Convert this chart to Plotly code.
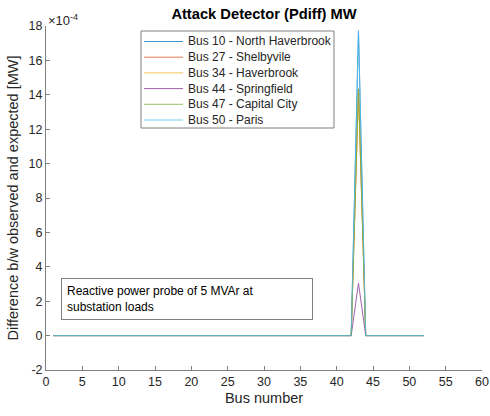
import plotly.graph_objects as go

bus_number = list(range(1, 53))

# values in MW (axis shows x1e-4 scale)
bus10 = [0, 0, 0, 0, 0, 0, 0, 0, 0, 0, 0, 0, 0, 0, 0, 0, 0, 0, 0, 0,
         0, 0, 0, 0, 0, 0, 0, 0, 0, 0, 0, 0, 0, 0, 0, 0, 0, 0, 0, 0,
         0, 0, 17.7e-4, 0, 0, 0, 0, 0, 0, 0, 0, 0]
bus27 = [0, 0, 0, 0, 0, 0, 0, 0, 0, 0, 0, 0, 0, 0, 0, 0, 0, 0, 0, 0,
         0, 0, 0, 0, 0, 0, 0, 0, 0, 0, 0, 0, 0, 0, 0, 0, 0, 0, 0, 0,
         0, 0, 14.3e-4, 0, 0, 0, 0, 0, 0, 0, 0, 0]
bus34 = [0, 0, 0, 0, 0, 0, 0, 0, 0, 0, 0, 0, 0, 0, 0, 0, 0, 0, 0, 0,
         0, 0, 0, 0, 0, 0, 0, 0, 0, 0, 0, 0, 0, 0, 0, 0, 0, 0, 0, 0,
         0, 0, 14.3e-4, 0, 0, 0, 0, 0, 0, 0, 0, 0]
bus44 = [0, 0, 0, 0, 0, 0, 0, 0, 0, 0, 0, 0, 0, 0, 0, 0, 0, 0, 0, 0,
         0, 0, 0, 0, 0, 0, 0, 0, 0, 0, 0, 0, 0, 0, 0, 0, 0, 0, 0, 0,
         0, 0, 3.05e-4, 0, 0, 0, 0, 0, 0, 0, 0, 0]
bus47 = [0, 0, 0, 0, 0, 0, 0, 0, 0, 0, 0, 0, 0, 0, 0, 0, 0, 0, 0, 0,
         0, 0, 0, 0, 0, 0, 0, 0, 0, 0, 0, 0, 0, 0, 0, 0, 0, 0, 0, 0,
         0, 0, 14.35e-4, 0, 0, 0, 0, 0, 0, 0, 0, 0]
bus50 = [0, 0, 0, 0, 0, 0, 0, 0, 0, 0, 0, 0, 0, 0, 0, 0, 0, 0, 0, 0,
         0, 0, 0, 0, 0, 0, 0, 0, 0, 0, 0, 0, 0, 0, 0, 0, 0, 0, 0, 0,
         0, 0, 17.75e-4, 0, 0, 0, 0, 0, 0, 0, 0, 0]

series_names = ["Bus 10 - North Haverbrook", "Bus 27 - Shelbyvile", "Bus 34 - Haverbrook",
                "Bus 44 - Springfield", "Bus 47 - Capital City", "Bus 50 - Paris"]
series_values = [bus10, bus27, bus34, bus44, bus47, bus50]
colors = ["#0072BD", "#D95319", "#EDB120", "#7E2F8E", "#77AC30", "#4DBEEE"]

y_tickvals = [-2e-4, 0, 2e-4, 4e-4, 6e-4, 8e-4, 10e-4, 12e-4, 14e-4, 16e-4, 18e-4]
y_ticktext = ["-2", "0", "2", "4", "6", "8", "10", "12", "14", "16", "18"]
x_tickvals = [0, 5, 10, 15, 20, 25, 30, 35, 40, 45, 50, 55, 60]

FONT = "Liberation Sans, Arial, Helvetica, sans-serif"
AX = "#262626"
AXLINE = "#808080"

# plot-area geometry (pixels)
L, R, T, B = 46, 8, 26, 46
W, H = 490, 416
PW, PH = W - L - R, H - T - B


def px(x):
    return (x - L) / PW


def py(y):
    return (H - B - y) / PH


fig = go.Figure()
for name, vals, c in zip(series_names, series_values, colors):
    fig.add_trace(go.Scatter(x=bus_number, y=vals, mode="lines", name=name,
                             line=dict(color=c, width=1), opacity=0.75,
                             showlegend=False, hoverinfo="skip"))

shapes = [dict(type="rect", xref="paper", yref="paper",
               x0=px(141), x1=px(334), y0=py(128), y1=py(31),
               line=dict(color=AXLINE, width=1), fillcolor="white", layer="above")]
annotations = []
row_h = 15.7
for i, (name, c) in enumerate(zip(series_names, colors)):
    yc = 41.5 + i * row_h
    shapes.append(dict(type="line", xref="paper", yref="paper",
                       x0=px(144), x1=px(183), y0=py(yc), y1=py(yc),
                       line=dict(color=c, width=1), opacity=0.75, layer="above"))
    annotations.append(dict(text=name, xref="paper", yref="paper", x=px(186), y=py(yc),
                            xanchor="left", yanchor="middle", showarrow=False,
                            font=dict(size=12, color=AX)))

annotations += [
    dict(text="×10<sup>-4</sup>", xref="paper", yref="paper", x=0.0, y=1.0,
         xanchor="left", yanchor="bottom", showarrow=False, yshift=-4,
         font=dict(size=13, color=AX)),
    dict(text="Reactive power probe of 5 MVAr at<br>substation loads",
         xref="paper", yref="paper", x=px(61), y=py(278),
         xanchor="left", yanchor="top", align="left", showarrow=False,
         bordercolor=AXLINE, borderwidth=1, borderpad=5, bgcolor="white",
         width=240, font=dict(size=12, color="#000000")),
]

fig.update_layout(
    width=W, height=H,
    margin=dict(l=L, r=R, t=T, b=B, autoexpand=False),
    plot_bgcolor="white", paper_bgcolor="white",
    font=dict(family=FONT, color=AX, size=12),
    title=dict(text="<b>Attack Detector (Pdiff) MW</b>", x=px(264), xanchor="center",
               xref="paper", y=1 - 14 / H, yanchor="middle",
               font=dict(size=14.7, color="#000000")),
    showlegend=False,
    hovermode=False,
    xaxis=dict(range=[0, 60], tickvals=x_tickvals, ticks="inside", ticklen=4,
               tickcolor=AXLINE, showline=True, linecolor=AXLINE, linewidth=1,
               showgrid=False, zeroline=False, mirror=False, automargin=False,
               tickfont=dict(size=12.5, color=AX),
               title=dict(text="Bus number", font=dict(size=14.5, color=AX), standoff=4)),
    yaxis=dict(range=[-2e-4, 18e-4], tickvals=y_tickvals, ticktext=y_ticktext,
               ticks="inside", ticklen=4, tickcolor=AXLINE, showline=True,
               linecolor=AXLINE, linewidth=1, showgrid=False, zeroline=False,
               automargin=False, tickfont=dict(size=12.5, color=AX),
               title=dict(text="Difference b/w observed and expected [MW]",
                          font=dict(size=14.5, color=AX), standoff=6)),
    shapes=shapes,
    annotations=annotations,
)

fig.write_html("out.html", config={"displayModeBar": False},
               post_script="document.body.style.margin='0';")
